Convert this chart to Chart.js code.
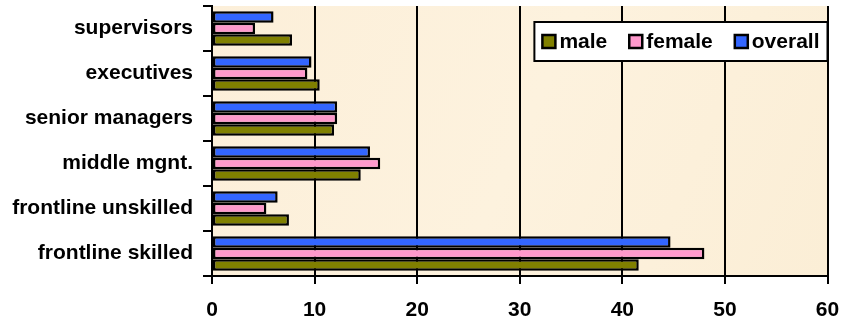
<!DOCTYPE html>
<html>
<head>
<meta charset="utf-8">
<script src="https://cdn.jsdelivr.net/npm/chart.js@4/dist/chart.umd.min.js"></script>
<style>
  html, body { margin: 0; padding: 0; background: #fff; }
  #wrap { width: 843px; height: 322px; position: relative; }
</style>
</head>
<body>
<div id="wrap"><canvas id="chart"></canvas></div>
<script>
/* ==========================
   DATA
========================== */
const categories = ["supervisors", "executives", "senior managers", "middle mgnt.", "frontline unskilled", "frontline skilled"];
const overall = [6.0, 9.7, 12.2, 15.4, 6.4, 44.7];
const female  = [4.2, 9.3, 12.2, 16.4, 5.3, 48.0];
const male    = [7.8, 10.5, 11.9, 14.5, 7.5, 41.6];
const xTicks  = [0, 10, 20, 30, 40, 50, 60];

const FONT = "'Liberation Sans', Arial, sans-serif";

/* ==========================
   PLOT BACKGROUND + LEGEND
========================== */
const plotBg = {
    id: "plotBg",
    beforeDraw(chart){
        const {ctx, chartArea:a} = chart;
        ctx.save();
        const g = ctx.createLinearGradient(a.left, a.top, a.right, a.bottom);
        g.addColorStop(0, "#fcefd9");
        g.addColorStop(0.5, "#fdf2de");
        g.addColorStop(1, "#fbeed6");
        ctx.fillStyle = g;
        ctx.fillRect(a.left, a.top, a.right - a.left, a.bottom - a.top);
        ctx.restore();
    }
};

const boxLegend = {
    id: "boxLegend",
    afterDraw(chart){
        const {ctx, chartArea:a} = chart;
        const items = chart.data.datasets.slice().reverse();
        ctx.save();
        ctx.font = "bold 21px " + FONT;
        const sw = 13, gapTxt = 4, gapItem = 22, pad = 8;
        let w = pad * 2;
        items.forEach((d, i) => {
            w += sw + gapTxt + ctx.measureText(d.label).width;
            if (i < items.length - 1) w += gapItem;
        });
        const h = 39;
        const x0 = a.right - w, y0 = a.top + 16;
        ctx.fillStyle = "#fff";
        ctx.fillRect(x0, y0, w, h);
        ctx.lineWidth = 2;
        ctx.strokeStyle = "#000";
        ctx.strokeRect(x0, y0, w, h);
        let x = x0 + pad;
        const cy = y0 + h / 2;
        ctx.textBaseline = "middle";
        items.forEach(d => {
            ctx.fillStyle = d.backgroundColor;
            ctx.fillRect(x, cy - sw / 2, sw, sw);
            ctx.lineWidth = 2.5;
            ctx.strokeRect(x, cy - sw / 2, sw, sw);
            x += sw + gapTxt;
            ctx.fillStyle = "#000";
            ctx.fillText(d.label, x, cy + 1);
            x += ctx.measureText(d.label).width + gapItem;
        });
        ctx.restore();
    }
};

/* ==========================
   CHART
========================== */
const barStyle = { borderColor: "#000", borderWidth: 2.5, borderSkipped: false, barPercentage: 1.0, categoryPercentage: 0.77 };

new Chart(document.getElementById("chart"), {
    type: "bar",
    data: {
        labels: categories,
        datasets: [
            { label: "overall", data: overall, backgroundColor: "#3366ff", ...barStyle },
            { label: "female",  data: female,  backgroundColor: "#ff99cc", ...barStyle },
            { label: "male",    data: male,    backgroundColor: "#808000", ...barStyle }
        ]
    },
    options: {
        indexAxis: "y",
        responsive: true,
        maintainAspectRatio: false,
        animation: false,
        layout: { padding: { top: 6, right: 15.5, left: 0, bottom: 0 } },
        plugins: {
            legend: { display: false },
            tooltip: { enabled: false }
        },
        scales: {
            x: {
                min: 0, max: 60,
                afterBuildTicks(scale){ scale.ticks = xTicks.map(v => ({value: v})); },
                afterFit(scale){ scale.height = 46; scale.paddingLeft = 0; scale.paddingRight = 0; },
                grid: { color: "#000", lineWidth: 2, tickLength: 8, drawOnChartArea: true },
                border: { display: true, color: "#000", width: 2 },
                ticks: { color: "#000", padding: 14, font: { family: FONT, size: 21, weight: "bold" } }
            },
            y: {
                afterFit(scale){ scale.width = 212; scale.paddingTop = 0; scale.paddingBottom = 0; },
                grid: { offset: true, drawOnChartArea: false, color: "#000", lineWidth: 2, tickLength: 9 },
                border: { display: true, color: "#000", width: 2 },
                ticks: { color: "#000", padding: 10, font: { family: FONT, size: 21, weight: "bold" } }
            }
        }
    },
    plugins: [plotBg, boxLegend]
});
</script>
</body>
</html>
